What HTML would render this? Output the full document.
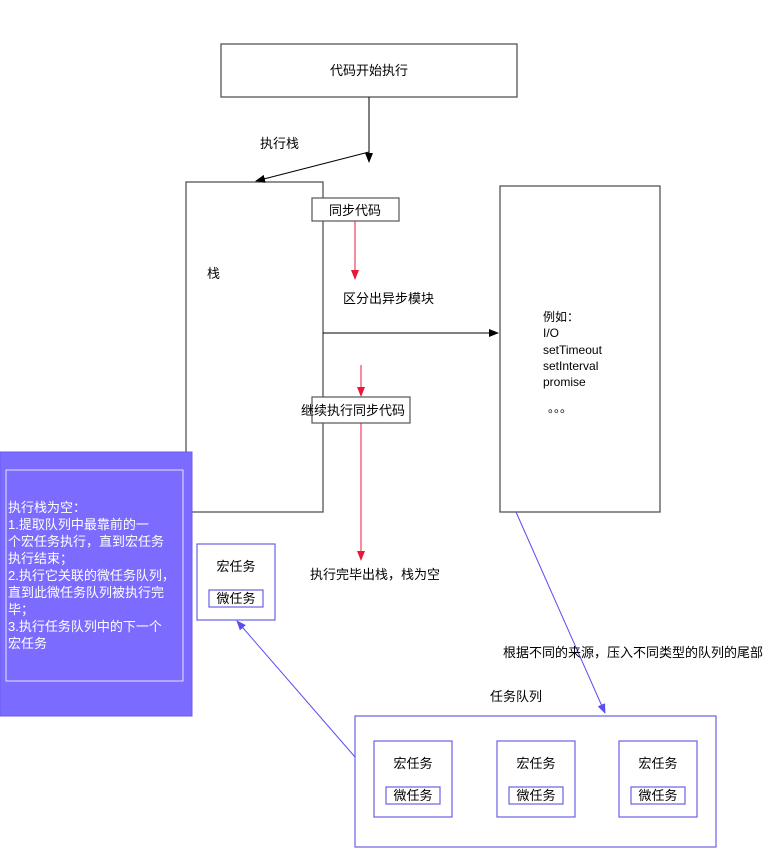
<!DOCTYPE html>
<html><head><meta charset="utf-8"><style>
html,body{margin:0;padding:0;background:#fff;}
svg{display:block;}
text{font-family:"Liberation Sans","Noto Sans CJK SC",sans-serif;font-size:13px;fill:#000;}
</style></head><body>
<svg width="783" height="865" viewBox="0 0 783 865" xmlns="http://www.w3.org/2000/svg">
<defs>
<marker id="ab" markerWidth="10" markerHeight="8" refX="9" refY="4" orient="auto" markerUnits="userSpaceOnUse"><path d="M0,0 L10,4 L0,8 Z" fill="#000"/></marker>
<marker id="ar" markerWidth="10" markerHeight="8" refX="9" refY="4" orient="auto" markerUnits="userSpaceOnUse"><path d="M0,0 L10,4 L0,8 Z" fill="#e8183c"/></marker>
<marker id="au" markerWidth="10" markerHeight="8" refX="9" refY="4" orient="auto" markerUnits="userSpaceOnUse"><path d="M0,0 L10,4 L0,8 Z" fill="#5a4ef0"/></marker>
</defs>
<g fill="none" stroke="#555" stroke-width="1.3">
<rect x="221" y="44" width="296" height="53" fill="#fff"/>
<rect x="186" y="182" width="137" height="330"/>
<rect x="500" y="186" width="160" height="326"/>
</g>
<text x="369" y="75" text-anchor="middle">代码开始执行</text>
<line x1="369" y1="97" x2="369" y2="162" stroke="#000" marker-end="url(#ab)"/>
<line x1="369" y1="152" x2="256" y2="181" stroke="#000" marker-end="url(#ab)"/>
<text x="260" y="148">执行栈</text>
<text x="207" y="278">栈</text>
<rect x="312" y="198" width="87" height="23" fill="#fff" stroke="#555" stroke-width="1.2"/>
<text x="355" y="215" text-anchor="middle">同步代码</text>
<line x1="355" y1="221" x2="355" y2="279" stroke="#e8183c" marker-end="url(#ar)"/>
<text x="343" y="303">区分出异步模块</text>
<line x1="323" y1="333" x2="498" y2="333" stroke="#000" marker-end="url(#ab)"/>
<line x1="361" y1="365" x2="361" y2="396" stroke="#e8183c" marker-end="url(#ar)"/>
<rect x="312" y="397" width="98" height="26" fill="#fff" stroke="#555" stroke-width="1.2"/>
<text x="301" y="415">继续执行同步代码</text>
<line x1="361" y1="423" x2="361" y2="560" stroke="#e8183c" marker-end="url(#ar)"/>
<text x="310" y="579">执行完毕出栈，栈为空</text>
<g font-size="12"><text x="543" y="321" style="font-size:12px">例如：</text>
<text x="543" y="337" style="font-size:12px">I/O</text>
<text x="543" y="354" style="font-size:12px">setTimeout</text>
<text x="543" y="370" style="font-size:12px">setInterval</text>
<text x="543" y="386" style="font-size:12px">promise</text>
<text x="548" y="412" style="font-size:12px">。。。</text></g>
<rect x="0" y="452" width="192" height="264" fill="#7b6cff" stroke="#6a5cf0"/>
<rect x="6" y="470" width="177" height="211" fill="none" stroke="#e6e4ff" stroke-width="1"/>
<g style="fill:#fff">
<text x="8" y="512" style="fill:#fff">执行栈为空：</text>
<text x="8" y="529" style="fill:#fff">1.提取队列中最靠前的一</text>
<text x="8" y="546" style="fill:#fff">个宏任务执行，直到宏任务</text>
<text x="8" y="563" style="fill:#fff">执行结束；</text>
<text x="8" y="580" style="fill:#fff">2.执行它关联的微任务队列，</text>
<text x="8" y="597" style="fill:#fff">直到此微任务队列被执行完</text>
<text x="8" y="614" style="fill:#fff">毕；</text>
<text x="8" y="631" style="fill:#fff">3.执行任务队列中的下一个</text>
<text x="8" y="648" style="fill:#fff">宏任务</text>
</g>
<g fill="none" stroke="#6a60e8" stroke-width="1.2">
<rect x="197" y="544" width="78" height="76" fill="#fff"/>
<rect x="209" y="590" width="54" height="17"/>
<rect x="355" y="716" width="361" height="131"/>
<rect x="374" y="741" width="78" height="76"/>
<rect x="386" y="787" width="54" height="17"/>
<rect x="497" y="741" width="78" height="76"/>
<rect x="509" y="787" width="54" height="17"/>
<rect x="619" y="741" width="78" height="76"/>
<rect x="631" y="787" width="54" height="17"/>
</g>
<text x="236" y="571" text-anchor="middle">宏任务</text>
<text x="236" y="603" text-anchor="middle">微任务</text>
<text x="413" y="768" text-anchor="middle">宏任务</text>
<text x="413" y="800" text-anchor="middle">微任务</text>
<text x="536" y="768" text-anchor="middle">宏任务</text>
<text x="536" y="800" text-anchor="middle">微任务</text>
<text x="658" y="768" text-anchor="middle">宏任务</text>
<text x="658" y="800" text-anchor="middle">微任务</text>
<line x1="516" y1="512" x2="605" y2="713" stroke="#5a4ef0" marker-end="url(#au)"/>
<line x1="355" y1="757" x2="237" y2="621" stroke="#5a4ef0" marker-end="url(#au)"/>
<text x="503" y="657">根据不同的来源，压入不同类型的队列的尾部</text>
<text x="490" y="701">任务队列</text>
</svg>
</body></html>
